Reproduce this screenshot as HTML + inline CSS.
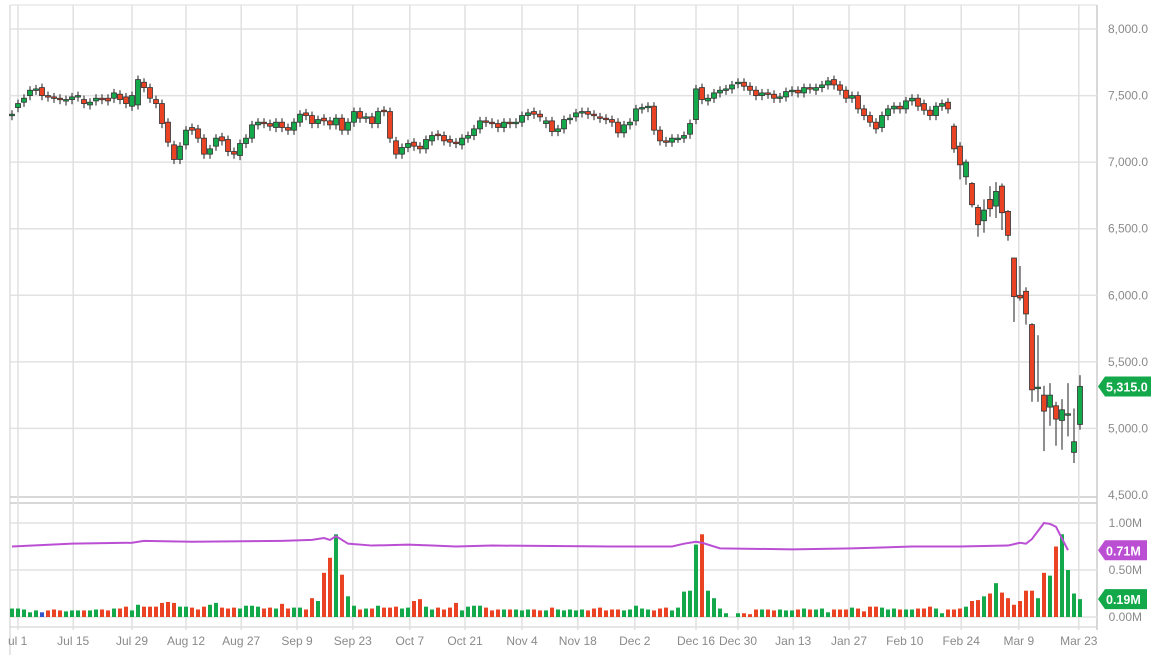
<!DOCTYPE html>
<html><head><meta charset="utf-8">
<style>
html,body{margin:0;padding:0;background:#fff;}
body{width:1158px;height:662px;overflow:hidden;font-family:"Liberation Sans",sans-serif;}
svg text{font-family:"Liberation Sans",sans-serif;}
</style></head>
<body>
<svg id="chart" width="1158" height="662" viewBox="0 0 1158 662" xmlns="http://www.w3.org/2000/svg">
<g id="grid"></g>
<g id="candles"></g>
<g id="vol"></g>
<g id="axes"></g>
</svg>
<script>
const dateLabels=["ul 1","Jul 15","Jul 29","Aug 12","Aug 27","Sep 9","Sep 23","Oct 7","Oct 21","Nov 4","Nov 18","Dec 2","Dec 16","Dec 30","Jan 13","Jan 27","Feb 10","Feb 24","Mar 9","Mar 23"];
const dateIdx=[1,10.2,20,29,38.2,47.5,56.8,66.3,75.5,85,94.3,103.8,114,121,130.2,139.5,148.8,158.2,167.8,177.8];
const priceTicks=[8000,7500,7000,6500,6000,5500,5000,4500];
const volTicks=[1.0,0.5,0.0];
const opens=[7350,7410,7450,7500,7540,7560,7500,7490,7480,7460,7470,7490,7470,7430,7460,7480,7480,7480,7510,7490,7420,7430,
7600,7560,7470,7440,7300,7130,7020,7130,7260,7250,7180,7060,7120,7190,7170,7080,7050,7140,7180,7280,7300,7290,7260,
7300,7260,7240,7300,7370,7350,7290,7330,7310,7280,7330,7240,7300,7380,7330,7340,7290,7390,7380,7160,7060,7110,7150,7120,7100,7160,
7210,7200,7170,7150,7130,7180,7200,7250,7310,7300,7290,7260,7300,7290,7300,7350,7380,7360,
7290,7310,7230,7250,7320,7340,7370,7380,7360,7340,7330,7320,7300,7220,7280,7310,7400,7410,7420,7240,7160,7150,7180,7180,7210,
7320,7560,7460,7480,7520,7540,7550,7590,7600,7570,7540,7500,7520,7510,7480,7490,7530,7540,7520,7560,7540,7560,7580,7620,7580,7540,7480,7500,7400,7350,7300,7260,7350,7400,7420,7400,7460,7480,7440,7390,7350,7420,7450,
7270,7120,6890,6840,6660,6560,6720,6670,6820,6630,
6280,6000,6030,5780,5310,5250,5160,5170,5060,5110,4820,5030];
const closes=[7360,7440,7480,7540,7550,7500,7490,7480,7470,7470,7490,7500,7440,7450,7480,7470,7460,7520,7470,7440,7500,7620,
7560,7480,7440,7290,7150,7020,7120,7240,7240,7180,7060,7100,7180,7160,7080,7060,7140,7180,7280,7300,7290,7270,7300,
7260,7240,7300,7360,7350,7290,7320,7310,7280,7330,7240,7300,7380,7330,7340,7290,7380,7380,7180,7060,7110,7140,7120,7100,7170,7200,
7200,7160,7150,7140,7180,7200,7250,7310,7300,7290,7260,7300,7290,7300,7350,7370,7360,7340,
7310,7230,7250,7320,7330,7370,7380,7360,7350,7330,7320,7300,7220,7280,7300,7400,7410,7420,7240,7160,7150,7180,7180,7200,7290,
7550,7470,7480,7520,7540,7550,7580,7600,7570,7540,7500,7520,7510,7480,7490,7530,7540,7520,7560,7550,7560,7580,7610,7580,7540,7480,7500,7400,7350,7300,7250,7350,7400,7420,7400,7460,7480,7420,7390,7350,7420,7440,7400,
7100,6980,7000,6680,6530,6640,6650,6780,6620,6450,
5990,5980,5860,5290,5310,5130,5250,5070,5140,5110,4900,5315];
const lateHighs=[7290,7150,7020,6850,6680,6720,6820,6850,6840,6640,6280,6220,6060,5790,5700,5320,5340,5200,5220,5340,5150,5400];
const lateLows=[7070,6870,6830,6660,6440,6470,6590,6580,6490,6410,5800,5960,5780,5200,5200,4830,5020,4870,4840,4940,4740,4990];
const volumes=[.09,.09,.08,.05,.07,.05,.07,.08,.07,.06,.07,.07,.07,.07,.08,.08,.07,.09,.09,.11,.07,.13,
.11,.11,.11,.15,.16,.15,.11,.11,.10,.08,.11,.13,.15,.10,.09,.10,.09,.12,.12,.11,.09,.10,.09,
.14,.09,.10,.10,.08,.20,.17,.47,.63,.88,.45,.22,.12,.08,.09,.09,.12,.10,.10,.11,.09,.10,
.17,.19,.11,.08,.10,.08,.10,.15,.07,.11,.12,.12,.10,.07,.08,.08,.08,.08,.07,.08,.08,.07,
.07,.10,.08,.07,.08,.07,.08,.07,.09,.10,.07,.08,.08,.07,.08,.12,.09,.08,.07,.09,.10,.07,.10,.27,.28,
.77,.88,.28,.20,.09,.04,.00,.04,.04,.03,.08,.08,.08,.07,.08,.07,.07,.08,.09,.08,.08,.09,.05,.08,.08,.08,.10,.09,.06,.11,.11,.10,.08,.09,.08,.08,.08,.09,.09,.11,.09,.04,.08,
.08,.09,.11,.17,.18,.22,.25,.36,.26,.20,
.13,.17,.28,.28,.20,.47,.44,.75,.88,.50,.25,.19];
const avgIdx=[0,10,20,22,30,45,50,52,53,54,56,60,66,70,74,80,100,110,112,114,115,118,130,140,150,158,166,168,169,170,172,173,174,176];
const avgVal=[.75,.78,.79,.81,.80,.81,.82,.84,.82,.86,.78,.76,.77,.76,.75,.76,.75,.75,.78,.80,.79,.73,.72,.73,.75,.75,.76,.79,.78,.83,1.0,.99,.96,.71];

const NS="http://www.w3.org/2000/svg";
const X0=12,XSTEP=6,LEFT=10,RIGHT=1097;
const py=v=>29+(8000-v)*(466/3500);
const vy=v=>617-v*94;
const xi=i=>X0+i*XSTEP;
function mk(tag,attrs,parent){const e=document.createElementNS(NS,tag);for(const k in attrs)e.setAttribute(k,attrs[k]);parent.appendChild(e);return e;}
const grid=document.getElementById('grid'),cg=document.getElementById('candles'),vg=document.getElementById('vol'),ax=document.getElementById('axes');
const GREEN="#13a84a",RED="#ea4324";

let l;
l=mk('line',{x1:LEFT,y1:5,x2:RIGHT,y2:5,stroke:'#ddd','stroke-width':1},grid);

l=mk('line',{x1:LEFT,y1:497,x2:RIGHT,y2:497,stroke:'#ccc','stroke-width':1.5},grid);

l=mk('line',{x1:LEFT,y1:503,x2:RIGHT,y2:503,stroke:'#ccc','stroke-width':1.5},grid);

l=mk('line',{x1:LEFT,y1:627,x2:RIGHT,y2:627,stroke:'#ddd','stroke-width':1.5},grid);

l=mk('line',{x1:RIGHT,y1:5,x2:RIGHT,y2:630,stroke:'#ccc','stroke-width':1.5},grid);

l=mk('line',{x1:LEFT,y1:5,x2:LEFT,y2:655,stroke:'#ccc','stroke-width':1},grid);


priceTicks.forEach(v=>{
  const y=py(v);
  if(v>4500){const g=mk('line',{x1:LEFT,y1:y,x2:RIGHT,y2:y,stroke:'#e2e2e2','stroke-width':1.5},grid);
  }
  const t=mk('text',{x:1148,y:y+4,'text-anchor':'end','font-size':12,fill:'#8a8a8a'},ax);
  t.textContent=v.toLocaleString('en-US',{minimumFractionDigits:1});
  
});
volTicks.forEach(v=>{
  const y=vy(v);
  const g=mk('line',{x1:LEFT,y1:y,x2:RIGHT,y2:y,stroke:'#e2e2e2','stroke-width':1.5},grid);
  
  const t=mk('text',{x:1142,y:y+4,'text-anchor':'end','font-size':12,fill:'#8a8a8a'},ax);
  t.textContent=v.toFixed(2)+'M';
  
});
dateLabels.forEach((d,k)=>{
  const x=xi(dateIdx[k]);
  const g=mk('line',{x1:x,y1:5,x2:x,y2:630,stroke:'#e0e0e0','stroke-width':1.5},grid);
  
  const t=mk('text',{x:k==0?8:x,y:645,'text-anchor':k==0?'start':'middle','font-size':12,fill:'#8a8a8a'},ax);
  t.textContent=d;
  
});

const lateStart=closes.length-lateHighs.length;
closes.forEach((c,i)=>{
  const o=opens[i];
  const up=c>=o;
  const hi=i>=lateStart?lateHighs[i-lateStart]:Math.max(o,c)+30;
  const lo=i>=lateStart?lateLows[i-lateStart]:Math.min(o,c)-35;
  const x=xi(i);
  const w=mk('line',{x1:x,y1:py(hi),x2:x,y2:py(lo),stroke:'#444','stroke-width':1.2},cg);
  
  const top=py(Math.max(o,c)),bh=Math.max(1.5,py(Math.min(o,c))-top);
  const b=mk('rect',{x:x-2.5,y:top,width:5,height:bh,fill:up?GREEN:RED,stroke:'#333','stroke-width':0.8},cg);
  
  const v=volumes[i];
  const vb=mk('rect',{x:x-2,y:vy(v),width:4,height:v*94,fill:i==5?'#3355cc':(up?GREEN:RED)},vg);
  
});

let d='';
avgIdx.forEach((ix,k)=>{d+=(k?'L':'M')+xi(ix)+' '+vy(avgVal[k])+' ';});
const p=mk('path',{d:d,fill:'none',stroke:'#bb4fd4','stroke-width':2},vg);


function badge(y,txt,col,name,w){
  const g=mk('g',{},ax);
  
  mk('path',{d:`M1098 ${y} L1105 ${y-10} L${1105+w} ${y-10} L${1105+w} ${y+10} L1105 ${y+10} Z`,fill:col},g);
  const t=mk('text',{x:1106,y:y+5,'font-size':12.5,'font-weight':'bold',fill:'#fff'},g);
  t.textContent=txt;
}
badge(py(5315),'5,315.0',GREEN,'last-price-badge',46);
badge(vy(0.71),'0.71M','#bb4fd4','avg-volume-badge',42);
badge(vy(0.19),'0.19M',GREEN,'last-volume-badge',42);
</script>
</body></html>
